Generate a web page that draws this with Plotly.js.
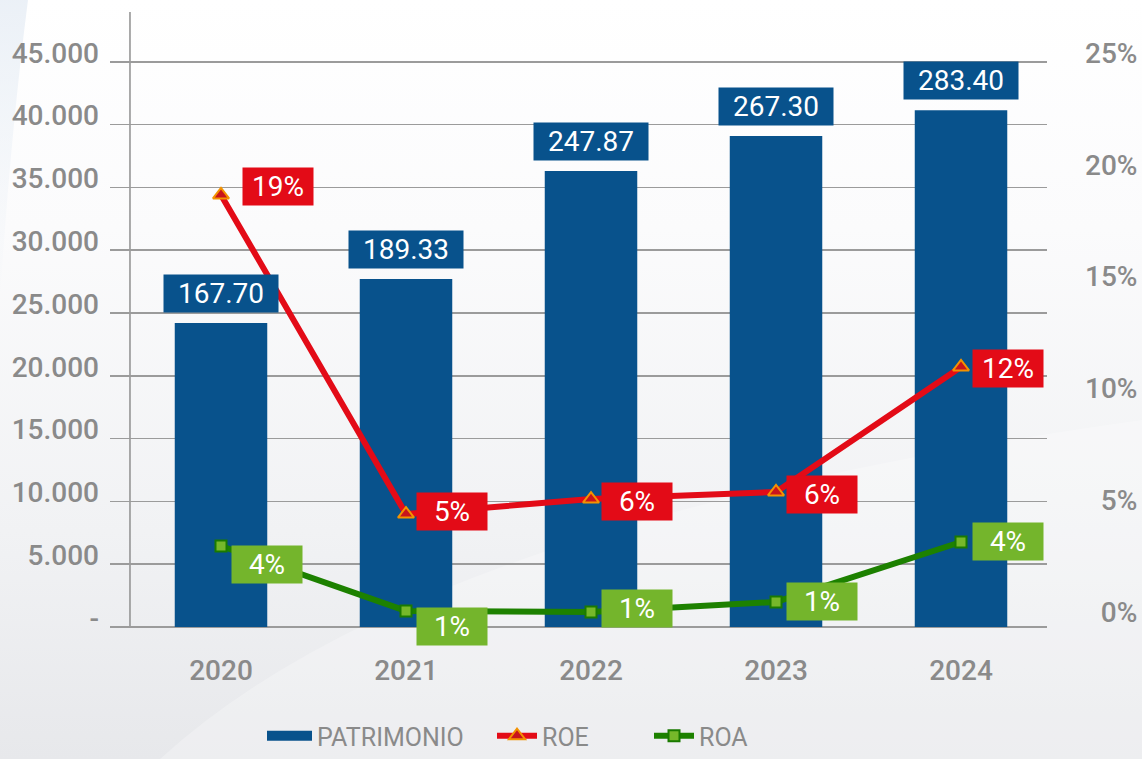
<!DOCTYPE html>
<html>
<head>
<meta charset="utf-8">
<script src="https://cdn.plot.ly/plotly-3.0.1.min.js"></script>
<style>
  html, body { margin: 0; padding: 0; }
  body {
    width: 1142px; height: 759px; overflow: hidden; position: relative;
    background: linear-gradient(to bottom, #ffffff 0%, #fbfbfc 30%, #f1f2f4 70%, #e7e8eb 100%);
  }
  #bg { position: absolute; left: 0; top: 0; width: 1142px; height: 759px; }
  #chart { position: absolute; left: 0; top: 0; width: 1142px; height: 759px; }
</style>
</head>
<body>
<svg id="bg" width="1142" height="759">
  <defs>
    <linearGradient id="g1" x1="0" y1="0" x2="0" y2="1">
      <stop offset="0" stop-color="#e9eff6" stop-opacity="0.9"/>
      <stop offset="1" stop-color="#e9eff6" stop-opacity="0"/>
    </linearGradient>
  </defs>
  <path d="M0,0 L28,0 Q10,140 0,300 Z" fill="url(#g1)"/>
  <path d="M160,759 Q420,520 1142,420 L1142,759 Z" fill="#ffffff" opacity="0.25"/>
</svg>
<div id="chart"></div>
<script>
// ---- data ----
var years = ["2020", "2021", "2022", "2023", "2024"];
var patrimonio = [24200, 27700, 36300, 39100, 41150];
var patrimonioLabels = ["167.70", "189.33", "247.87", "267.30", "283.40"];
var roe = [0.1932, 0.0505, 0.0572, 0.0604, 0.1163];
var roa = [0.0362, 0.0072, 0.0067, 0.0112, 0.0380];
var leftTickVals = [0, 5000, 10000, 15000, 20000, 25000, 30000, 35000, 40000, 45000];
var leftTickText = ["-", "5.000", "10.000", "15.000", "20.000", "25.000", "30.000", "35.000", "40.000", "45.000"];
var rightTickVals = [0, 0.05, 0.10, 0.15, 0.20, 0.25];
var rightTickText = ["\u20070%", "\u20075%", "10%", "15%", "20%", "25%"];

// ---- styles ----
var FONT = "Roboto, 'DejaVu Sans', sans-serif";
var GRAY = "#8a8a8a";
var BLUE = "#08528c";
var RED = "#e30b17";
var GREEN_LINE = "#1d8100";
var GREEN_LBL = "#74b52c";
var FS = 28;
var roeShift = [[57, 8], [46, 2.5], [45.5, -2], [45.5, -2.5], [46.5, -1.5]];
var roaShift = [[46, -18.5], [46, -16], [45.5, 3.5], [45.5, 0.5], [46.5, 0.5]];

var traces = [
  {
    type: "bar", x: years, y: patrimonio, name: "PATRIMONIO",
    marker: { color: BLUE }, width: 0.5, showlegend: false, hoverinfo: "skip"
  },
  {
    type: "scatter", mode: "lines", x: [null], y: [null], name: "PATRIMONIO", legend: "legend",
    line: { color: BLUE, width: 11 }, hoverinfo: "skip"
  },
  {
    type: "scatter", mode: "lines+markers", x: years, y: roe, yaxis: "y2", name: "ROE", legend: "legend2",
    line: { color: RED, width: 6 },
    marker: { symbol: "triangle-up", size: 14, color: "#c8141c", line: { color: "#f39200", width: 2 } }
  },
  {
    type: "scatter", mode: "lines+markers", x: years, y: roa, yaxis: "y2", name: "ROA", legend: "legend3",
    line: { color: GREEN_LINE, width: 6 },
    marker: { symbol: "square", size: 11, color: "#76b82a", line: { color: "#1a7a00", width: 2 } }
  }
];

var annotations = [];
years.forEach(function (yr, i) {
  annotations.push({
    x: i, y: patrimonio[i], xref: "x", yref: "y",
    text: patrimonioLabels[i], showarrow: false,
    xanchor: "center", yanchor: "bottom", yshift: 10,
    width: 114, height: 37, bgcolor: BLUE, borderpad: 0,
    font: { family: FONT, size: FS, color: "#ffffff" }
  });
  annotations.push({
    x: i, y: roe[i], xref: "x", yref: "y2",
    text: Math.round(roe[i] * 100) + "%", showarrow: false,
    xanchor: "center", yanchor: "middle", xshift: roeShift[i][0], yshift: roeShift[i][1],
    width: 70, height: 37, bgcolor: RED, borderpad: 0,
    font: { family: FONT, size: FS, color: "#ffffff" }
  });
  annotations.push({
    x: i, y: roa[i], xref: "x", yref: "y2",
    text: Math.round(roa[i] * 100) + "%", showarrow: false,
    xanchor: "center", yanchor: "middle", xshift: roaShift[i][0], yshift: roaShift[i][1],
    width: 70, height: 37, bgcolor: GREEN_LBL, borderpad: 0,
    font: { family: FONT, size: FS, color: "#ffffff" }
  });
});

function legendAt(px, iw) {
  return {
    orientation: "h", xref: "container", x: px / 1142, xanchor: "left",
    yref: "container", y: 0, yanchor: "bottom",
    font: { family: FONT, size: 25, color: GRAY }, itemwidth: iw,
    bgcolor: "rgba(0,0,0,0)", borderwidth: 0
  };
}

var layout = {
  width: 1142, height: 759,
  margin: { l: 110, r: 5, t: 12, b: 132, pad: 0, autoexpand: false },
  paper_bgcolor: "rgba(0,0,0,0)", plot_bgcolor: "rgba(0,0,0,0)",
  font: { family: FONT, size: FS, color: GRAY },
  showlegend: true,
  xaxis: {
    type: "category", domain: [0, 0.9124], range: [-0.6, 4.465],
    showgrid: false, zeroline: false, showline: false, ticks: "",
    ticklabelstandoff: 24,
    tickfont: { family: FONT, size: FS, color: GRAY, weight: 500 }
  },
  yaxis: {
    range: [0, 48965], tickvals: leftTickVals, ticktext: leftTickText,
    showgrid: true, gridcolor: "#9b9b9b", gridwidth: 1.5,
    zeroline: true, zerolinecolor: "#9b9b9b", zerolinewidth: 1.5,
    showline: false, ticks: "", ticklabelshift: -9, ticklabelstandoff: 10,
    tickfont: { family: FONT, size: FS, color: GRAY, weight: 500 }
  },
  yaxis2: {
    overlaying: "y", side: "right", anchor: "x",
    range: [0, 0.275], tickvals: rightTickVals, ticktext: rightTickText,
    showgrid: false, zeroline: false, showline: false, ticks: "",
    ticklabelshift: -15, ticklabelstandoff: 37,
    tickfont: { family: FONT, size: FS, color: GRAY, weight: 500 }
  },
  shapes: [
    { type: "line", xref: "x", yref: "paper", x0: -0.492, x1: -0.492, y0: 0, y1: 1,
      line: { color: "#8f8f8f", width: 1.5 }, layer: "below" }
  ],
  legend: legendAt(262, 45),
  legend2: legendAt(492, 40),
  legend3: legendAt(649, 40),
  annotations: annotations,
  bargap: 0.5
};

Plotly.newPlot("chart", traces, layout, { displayModeBar: false, staticPlot: true });
</script>
</body>
</html>
